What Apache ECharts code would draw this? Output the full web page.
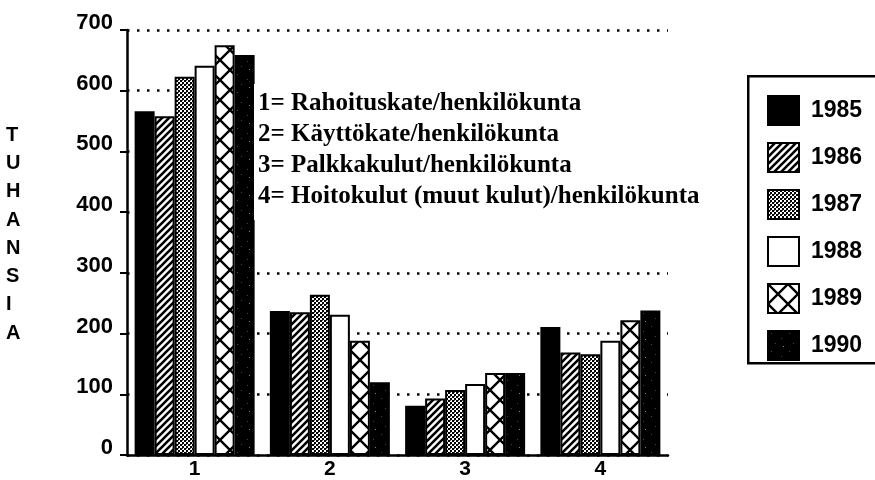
<!DOCTYPE html>
<html>
<head>
<meta charset="utf-8">
<script src="https://cdn.jsdelivr.net/npm/echarts@6/dist/echarts.min.js"></script>
<style>
  html, body { margin: 0; padding: 0; background: #fff; }
  #chart { width: 875px; height: 480px; }
</style>
</head>
<body>
<div id="chart"></div>
<script>
// tunnusluvut (tuhansia)
var categories = ['1', '2', '3', '4'];
var years = ['1985', '1986', '1987', '1988', '1989', '1990'];
var v1985 = [566, 237, 81, 211];
var v1986 = [558, 235, 93, 169];
var v1987 = [623, 264, 107, 166];
var v1988 = [641, 231, 117, 188];
var v1989 = [675, 188, 135, 222];
var v1990 = [659, 120, 135, 238];
var yearValues = [v1985, v1986, v1987, v1988, v1989, v1990];

var notes = [
    '1= Rahoituskate/henkilökunta',
    '2= Käyttökate/henkilökunta',
    '3= Palkkakulut/henkilökunta',
    '4= Hoitokulut (muut kulut)/henkilökunta'
];

// rasterit pylväisiin
function tile(size, draw) {
    var c = document.createElement('canvas');
    c.width = size;
    c.height = size;
    var ctx = c.getContext('2d');
    draw(ctx, size);
    return { image: c, repeat: 'repeat' };
}

var fills = [
    '#000',
    tile(7, function(ctx, s) {
        ctx.fillStyle = '#fff';
        ctx.fillRect(0, 0, s, s);
        ctx.strokeStyle = '#000';
        ctx.lineWidth = 2.6;
        ctx.beginPath();
        ctx.moveTo(-1, s + 1); ctx.lineTo(s + 1, -1);
        ctx.moveTo(-1, 1); ctx.lineTo(1, -1);
        ctx.moveTo(s - 1, s + 1); ctx.lineTo(s + 1, s - 1);
        ctx.stroke();
    }),
    tile(4, function(ctx, s) {
        ctx.fillStyle = '#fff';
        ctx.fillRect(0, 0, s, s);
        ctx.fillStyle = '#000';
        ctx.fillRect(0, 0, 2, 2);
        ctx.fillRect(2, 2, 2, 2);
        ctx.fillStyle = '#555';
        ctx.fillRect(2, 0, 1, 1);
    }),
    '#fff',
    tile(20, function(ctx, s) {
        ctx.fillStyle = '#fff';
        ctx.fillRect(0, 0, s, s);
        ctx.strokeStyle = '#000';
        ctx.lineWidth = 2.4;
        ctx.beginPath();
        ctx.moveTo(0, 0); ctx.lineTo(s, s);
        ctx.moveTo(0, s); ctx.lineTo(s, 0);
        ctx.stroke();
    }),
    tile(18, function(ctx, s) {
        ctx.fillStyle = '#000';
        ctx.fillRect(0, 0, s, s);
        ctx.fillStyle = '#444';
        ctx.fillRect(3, 2, 1, 1);
        ctx.fillRect(13, 7, 1, 1);
        ctx.fillRect(7, 12, 1, 1);
        ctx.fillStyle = '#888';
        ctx.fillRect(15, 15, 1, 1);
    })
];

var sans = 'Liberation Sans';

var chart = echarts.init(document.getElementById('chart'));

var series = years.map(function(y, i) {
    return {
        name: y,
        type: 'bar',
        data: yearValues[i],
        barWidth: 20,
        barGap: '0%',
        itemStyle: {
            color: fills[i],
            borderColor: '#000',
            borderWidth: 2
        }
    };
});

var option = {
    animation: false,
    backgroundColor: '#fff',
    grid: { left: 127, right: 207, top: 30, bottom: 23 },
    xAxis: {
        type: 'category',
        data: categories,
        axisLine: { lineStyle: { color: '#000', width: 2.5 } },
        axisTick: { show: false },
        axisLabel: {
            color: '#000',
            fontFamily: sans,
            fontWeight: 'bold',
            fontSize: 21,
            margin: 4
        }
    },
    yAxis: {
        type: 'value',
        min: 0,
        max: 700,
        interval: 100,
        axisLine: { show: true, lineStyle: { color: '#000', width: 2.5 } },
        axisTick: { show: true, length: 7, lineStyle: { color: '#000', width: 2 } },
        axisLabel: {
            color: '#000',
            fontFamily: sans,
            fontWeight: 'bold',
            fontSize: 22,
            margin: 14,
            verticalAlign: 'bottom',
            padding: [0, 0, -4, 0]
        },
        splitLine: {
            show: true,
            lineStyle: { color: '#000', width: 2.5, type: [2.5, 7.5] }
        }
    },
    legend: {
        orient: 'vertical',
        left: 762,
        top: 90,
        itemWidth: 31,
        itemHeight: 29,
        itemGap: 16,
        icon: 'rect',
        selectedMode: false,
        textStyle: {
            color: '#000',
            fontFamily: sans,
            fontWeight: 'bold',
            fontSize: 23,
            padding: [0, 0, 0, 7]
        },
        data: years,
        z: 10
    },
    graphic: [
        {
            type: 'rect',
            left: 747,
            top: 75,
            z: 1,
            shape: { width: 140, height: 287 },
            style: { fill: '#fff', stroke: '#000', lineWidth: 2.5 }
        },
        {
            type: 'text',
            left: 254,
            top: 84,
            z: 5,
            style: {
                text: notes.join('\n'),
                fontFamily: 'Liberation Serif',
                fontWeight: 'bold',
                fontSize: 25,
                lineHeight: 31,
                fill: '#000',
                backgroundColor: '#fff',
                padding: [4, 4, 8, 4]
            }
        },
        {
            type: 'text',
            left: 6,
            top: 121,
            z: 5,
            style: {
                text: 'TUHANSIA'.split('').join('\n'),
                fontFamily: sans,
                fontWeight: 'bold',
                fontSize: 20,
                lineHeight: 28.3,
                align: 'center',
                fill: '#000'
            }
        }
    ],
    series: series
};

chart.setOption(option);
</script>
</body>
</html>
